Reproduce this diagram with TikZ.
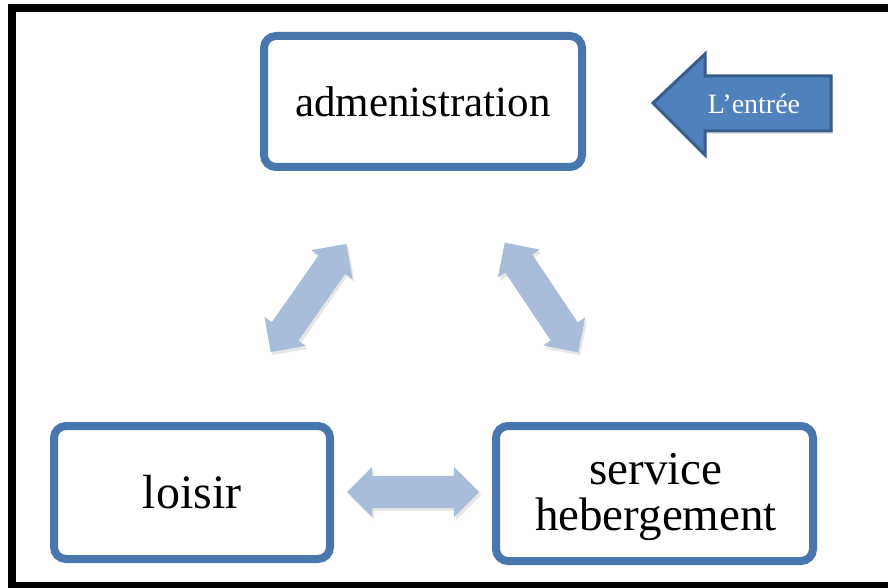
\documentclass[tikz,border=0pt]{standalone}
\usepackage{fontspec}
\setmainfont{Liberation Serif}
\usetikzlibrary{shapes.arrows,shadows,positioning}

\definecolor{boxblue}{RGB}{74,118,174}
\definecolor{paleblue}{RGB}{169,188,218}
\definecolor{entreefill}{RGB}{79,129,189}
\definecolor{entreeline}{RGB}{56,93,138}

\begin{document}
\begin{tikzpicture}[x=1pt,y=-1pt,
  box/.style={draw=boxblue, line width=8pt, rounded corners=12pt, fill=white,
    align=center, font=\fontsize{47}{46}\selectfont,
    drop shadow={opacity=0.2, shadow xshift=2pt, shadow yshift=-3pt}},
  link/.style={double arrow, fill=paleblue, minimum height=132pt,
    inner xsep=0pt, inner ysep=16pt, text height=0pt, text depth=0pt,
    double arrow head extend=9pt, double arrow tip angle=90,
    drop shadow={opacity=0.2, shadow xshift=2pt, shadow yshift=-3pt}}]
\useasboundingbox (0,0) rectangle (888,588);
\clip (0,0) rectangle (888,588);
\draw [line width=8pt] (12,8) rectangle (900,586);

% the three services
\node [box, minimum width=318pt, minimum height=131pt, font=\fontsize{43}{43}\selectfont] (admin) at (423,101.5) {admenistration};
\node [box, minimum width=276pt, minimum height=133pt, font=\fontsize{48}{48}\selectfont] (loisir) at (192,492.5) {loisir};
\node [box, minimum width=317pt, minimum height=135pt] (service) at (654.5,493.5) {};
\node [align=center, font=\fontsize{47}{46}\selectfont] (servicetext) at (656,497) {service\\hebergement};

% links between them
\coordinate (la1) at (270,353);
\coordinate (la2) at (347,243);
\coordinate (ra1) at (505,243);
\coordinate (ra2) at (578,352);
\coordinate (ba1) at (348,492);
\coordinate (ba2) at (478,492);
\path (la1) -- node [link, sloped] (la) {} (la2);
\path (ra1) -- node [link, sloped] (ra) {} (ra2);
\path (ba1) -- node [link, sloped] (ba) {} (ba2);

% entry arrow
\draw [fill=entreefill, draw=entreeline, line width=3pt,
  drop shadow={opacity=0.2, shadow xshift=2pt, shadow yshift=-3pt}]
  (653,103) -- (705,54) -- (705,76) -- (831,76) -- (831,131) -- (705,131) -- (705,155) -- cycle;
\node [text=white, font=\fontsize{28}{28}\selectfont] (entree) at (754,104) {L’entrée};
\end{tikzpicture}
\end{document}
